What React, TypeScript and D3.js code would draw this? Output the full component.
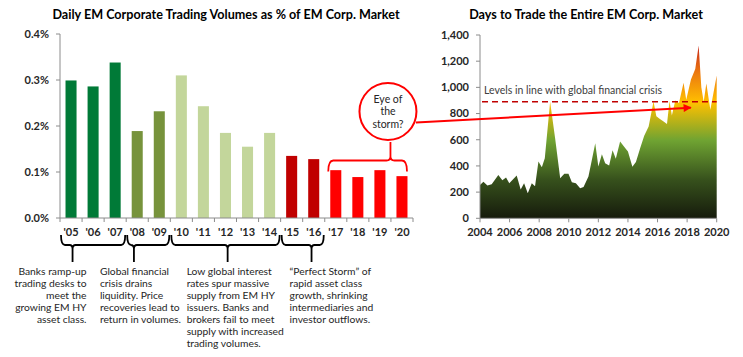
import React from 'react';
import * as d3 from 'd3';

// ---------- Left chart data ----------
const years = ["'05", "'06", "'07", "'08", "'09", "'10", "'11", "'12", "'13", "'14", "'15", "'16", "'17", "'18", "'19", "'20"];
const volumes = [0.299, 0.286, 0.338, 0.189, 0.232, 0.31, 0.243, 0.185, 0.155, 0.185, 0.135, 0.128, 0.104, 0.089, 0.104, 0.091];
const barColors = ['#007A37', '#007A37', '#007A37', '#77933C', '#77933C', '#C3D69B', '#C3D69B', '#C3D69B', '#C3D69B', '#C3D69B', '#C00000', '#C00000', '#FF0000', '#FF0000', '#FF0000', '#FF0000'];
const leftTicks = [0, 0.1, 0.2, 0.3, 0.4];

const phaseFrom = [0, 3, 5, 10];
const phaseTo = [3, 5, 10, 12];
const phaseStem = [0.18, 0.16, 0.52, 0.71];
const phaseText = [
  ['Banks ramp-up', 'trading desks to', 'meet the', 'growing EM HY', 'asset class.'],
  ['Global financial', 'crisis drains', 'liquidity.  Price', 'recoveries lead to', 'return in volumes.'],
  ['Low global interest', 'rates spur massive', 'supply from EM HY', 'issuers.  Banks and', 'brokers fail to meet', 'supply with increased', 'trading volumes.'],
  ['\u201CPerfect Storm\u201D of', 'rapid asset class', 'growth, shrinking', 'intermediaries and', 'investor outflows.'],
];
const phaseAlign = ['end', 'start', 'start', 'start'];
const phaseTextDx = [14, -34, -41, -22];

const stormLines = ['Eye of', 'the', 'storm?'];

// ---------- Right chart data ----------
const dayDates = [2004.0, 2004.23, 2004.5, 2004.79, 2005.24, 2005.51, 2005.76, 2005.98, 2006.48, 2006.75, 2006.98, 2007.23, 2007.5, 2007.72, 2007.95, 2008.18, 2008.38, 2008.74, 2009.08, 2009.42, 2009.7, 2009.98, 2010.21, 2010.48, 2010.77, 2011.0, 2011.33, 2011.56, 2011.79, 2012.0, 2012.24, 2012.46, 2012.73, 2012.96, 2013.18, 2013.47, 2013.81, 2014.0, 2014.3, 2014.54, 2014.83, 2015.1, 2015.4, 2015.73, 2015.92, 2016.14, 2016.41, 2016.64, 2016.81, 2016.97, 2017.2, 2017.45, 2017.76, 2017.94, 2018.26, 2018.55, 2018.78, 2018.96, 2019.12, 2019.3, 2019.57, 2020.0];
const dayValues = [255, 280, 250, 260, 331, 290, 311, 268, 326, 220, 268, 191, 268, 245, 433, 390, 459, 890, 610, 305, 340, 340, 275, 268, 230, 240, 320, 446, 574, 395, 490, 421, 403, 520, 455, 586, 536, 510, 393, 430, 536, 630, 701, 892, 780, 760, 740, 720, 895, 785, 900, 880, 1035, 905, 1060, 1140, 1320, 1000, 890, 1030, 830, 1090];
const rightYTicks = [0, 200, 400, 600, 800, 1000, 1200, 1400];
const rightXTicks = [2004, 2006, 2008, 2010, 2012, 2014, 2016, 2018, 2020];
const gfcLevel = 890;
const arrowTarget = { t: 2018.25, v: 845 };

const FONT = 'Lato, "Open Sans", sans-serif';
const TXT = '#262626';
const AXIS = '#8C8C8C';

export default function App() {
  // Left scales
  const xL = d3.scaleBand<string>().domain(years).range([60, 413]).paddingInner(0.5).paddingOuter(0.25);
  const yL = d3.scaleLinear().domain([0, 0.4]).range([218, 34]);
  const step = xL.step();
  const x0L = 60;
  const boundary = (k: number) => x0L + k * step;

  // Right scales
  const xR = d3.scaleLinear().domain([2004, 2020]).range([480, 716.7]);
  const yR = d3.scaleLinear().domain([0, 1400]).range([218.3, 35]);
  const pts = dayDates.map((t, i) => ({ t, v: dayValues[i] }));
  const area = d3.area<{ t: number; v: number }>().x(d => xR(d.t)).y0(yR(0)).y1(d => yR(d.v));

  // Red bracket over '17-'20
  const rbX1 = boundary(12) + 3.5;
  const rbX2 = boundary(16) - 6;
  const rbY = yL(0.125);
  const rbEndY = rbY + 11;
  const rbStem = rbX1 + (rbX2 - rbX1) * 0.79;
  const rbTop = rbY - 18.5;
  const circR = 28.5;
  const circCx = rbStem - 2.5;
  const circCy = rbTop - circR - 2;

  const rbPath = `M${rbX1},${rbEndY} Q${rbX1},${rbY} ${rbX1 + 5},${rbY} L${rbStem - 4},${rbY} Q${rbStem},${rbY} ${rbStem},${rbY - 4} L${rbStem},${rbTop} M${rbStem},${rbY - 4} Q${rbStem},${rbY} ${rbStem + 4},${rbY} L${rbX2 - 5},${rbY} Q${rbX2},${rbY} ${rbX2},${rbEndY}`;

  const arrowStart = { x: circCx + 28, y: circCy + 11 };
  const arrowEnd = { x: xR(arrowTarget.t), y: yR(arrowTarget.v) };

  const braceTop = 235;
  const braceY = 245;
  const stemBottom = 262;

  return (
    <svg width={743} height={357} style={{ position: 'absolute', left: 0, top: 0, background: '#fff' }} fontFamily={FONT}>
      <defs>
        <linearGradient id="heat" gradientUnits="userSpaceOnUse" x1={0} x2={0} y1={yR(1320)} y2={yR(0)}>
          <stop offset="0%" stopColor="#C8281A" />
          <stop offset="16%" stopColor="#EC7A10" />
          <stop offset="33%" stopColor="#FFC000" />
          <stop offset="55%" stopColor="#6FA332" />
          <stop offset="78%" stopColor="#36501C" />
          <stop offset="100%" stopColor="#161B0C" />
        </linearGradient>
        <marker id="arrowhead" viewBox="0 0 10 10" refX={9} refY={5} markerWidth={4.5} markerHeight={4} orient="auto" markerUnits="strokeWidth">
          <path d="M0,0 L10,5 L0,10 z" fill="#FF0000" />
        </marker>
      </defs>

      {/* ----- Left chart ----- */}
      <text x={226} y={18.5} textAnchor="middle" fontWeight="bold" fontSize={12.6} fill="#000">
        Daily EM Corporate Trading Volumes as % of EM Corp. Market
      </text>
      {years.map((yr, i) => (
        <rect key={yr} x={xL(yr)} y={yL(volumes[i])} width={xL.bandwidth()} height={yL(0) - yL(volumes[i])} fill={barColors[i]} />
      ))}
      <line x1={x0L} x2={x0L} y1={yL(0.4)} y2={yL(0)} stroke={AXIS} />
      <line x1={x0L} x2={boundary(16)} y1={yL(0)} y2={yL(0)} stroke={AXIS} />
      {leftTicks.map(t => (
        <g key={t}>
          <line x1={x0L - 4} x2={x0L} y1={yL(t)} y2={yL(t)} stroke={AXIS} />
          <text x={49} y={yL(t)} dy="0.35em" textAnchor="end" fontWeight="bold" fontSize={11} fill={TXT}>
            {d3.format('.1%')(t / 100)}
          </text>
        </g>
      ))}
      {d3.range(17).map(k => (
        <line key={k} x1={boundary(k)} x2={boundary(k)} y1={yL(0)} y2={yL(0) + 4} stroke={AXIS} />
      ))}
      {years.map(yr => (
        <text key={yr} x={(xL(yr) as number) + xL.bandwidth() / 2} y={232} dy="0.35em" textAnchor="middle" fontWeight="bold" fontSize={11} fill={TXT}>
          {yr}
        </text>
      ))}

      {/* phase braces */}
      {phaseFrom.map((f, i) => {
        const a = boundary(f) + 1;
        const b = boundary(phaseTo[i]) - 1;
        const s = a + (b - a) * phaseStem[i];
        const d = `M${a},${braceTop} Q${a},${braceY} ${a + 4},${braceY} L${s - 3},${braceY} Q${s},${braceY} ${s},${braceY + 4} L${s},${stemBottom} M${s},${braceY + 4} Q${s},${braceY} ${s + 3},${braceY} L${b - 4},${braceY} Q${b},${braceY} ${b},${braceTop}`;
        return (
          <g key={i}>
            <path d={d} fill="none" stroke="#000" strokeWidth={1.8} />
            <text x={s + phaseTextDx[i]} y={271.7} textAnchor={phaseAlign[i] as any} fontSize={10.3} fill={TXT}>
              {phaseText[i].map((ln, j) => (
                <tspan key={j} x={s + phaseTextDx[i]} y={271.7 + j * 11.9} dy="0.35em">{ln}</tspan>
              ))}
            </text>
          </g>
        );
      })}

      {/* ----- Right chart ----- */}
      <text x={586} y={18.5} textAnchor="middle" fontWeight="bold" fontSize={12.6} fill="#000">
        Days to Trade the Entire EM Corp. Market
      </text>
      <path d={area(pts) as string} fill="url(#heat)" />
      <line x1={xR(2004)} x2={xR(2004)} y1={yR(1400)} y2={yR(0)} stroke={AXIS} />
      <line x1={xR(2004)} x2={xR(2020)} y1={yR(0)} y2={yR(0)} stroke={AXIS} />
      {rightYTicks.map(t => (
        <g key={t}>
          <line x1={xR(2004) - 4} x2={xR(2004)} y1={yR(t)} y2={yR(t)} stroke={AXIS} />
          <text x={469} y={yR(t)} dy="0.35em" textAnchor="end" fontWeight="bold" fontSize={11} fill={TXT}>
            {d3.format(',')(t)}
          </text>
        </g>
      ))}
      {rightXTicks.map(t => (
        <g key={t}>
          <line x1={xR(t)} x2={xR(t)} y1={yR(0)} y2={yR(0) + 4} stroke={AXIS} />
          <text x={xR(t)} y={232} dy="0.35em" textAnchor="middle" fontWeight="bold" fontSize={11} fill={TXT}>
            {t}
          </text>
        </g>
      ))}
      <line x1={xR(2004) + 2} x2={xR(2020)} y1={yR(gfcLevel)} y2={yR(gfcLevel)} stroke="#C00000" strokeWidth={1.5} strokeDasharray="6,4" />
      <text x={484} y={90.7} dy="0.35em" fontSize={10.5} fill="#404040">
        Levels in line with global financial crisis
      </text>

      {/* red bracket, arrow + circle (on top) */}
      <path d={rbPath} fill="none" stroke="#FF0000" strokeWidth={1.8} />
      <line x1={arrowStart.x} y1={arrowStart.y} x2={arrowEnd.x} y2={arrowEnd.y} stroke="#FF0000" strokeWidth={2} markerEnd="url(#arrowhead)" />
      <circle cx={circCx} cy={circCy} r={circR} fill="#fff" stroke="#FF0000" strokeWidth={2} />
      <text textAnchor="middle" fontSize={10.5} fill={TXT}>
        {stormLines.map((ln, j) => (
          <tspan key={j} x={circCx} y={circCy - 12.3 + j * 12.4} dy="0.35em">{ln}</tspan>
        ))}
      </text>
    </svg>
  );
}
